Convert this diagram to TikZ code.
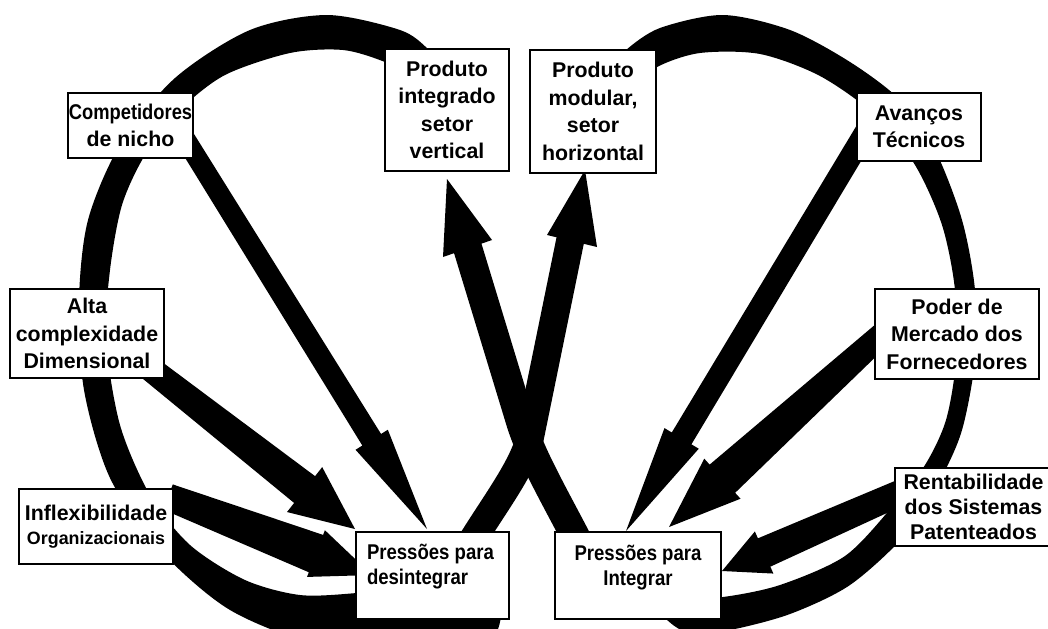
\documentclass[tikz,border=0pt]{standalone}
\usepackage{fontspec}
\usepackage{graphicx}
\setmainfont{Liberation Sans}
\usetikzlibrary{calc}

\newcommand\boxfont{\fontsize{16}{20.6}\selectfont\bfseries}
\newcommand\narrowtxt[1]{\scalebox{0.87}[1]{#1}}

% tapered block arrow: #1 tail, #2 tip, #3 tail half-width,
% #4 neck half-width, #5 head half-width, #6 head length
\newcommand\blockarrow[6]{%
  \coordinate (ba-n) at ($(#2)!#6!(#1)$);
  \fill[band] ($(#1)!#3!90:(#2)$) -- ($(ba-n)!#4!90:(#2)$) -- ($(ba-n)!#5!90:(#2)$) -- (#2)
    -- ($(ba-n)!#5!-90:(#2)$) -- ($(ba-n)!#4!-90:(#2)$) -- ($(#1)!#3!-90:(#2)$) -- cycle;}

\begin{document}
\begin{tikzpicture}[x=0.75pt, y=-0.75pt,
  band/.style={fill=black},
  box/.style={draw=black, line width=1.2pt, fill=white, inner sep=0pt, align=center, font=\boxfont},
  strand/.style={draw=black, line width=#1, line cap=butt, line join=round}]
\useasboundingbox (0,0) rectangle (1048,628);
\clip (0,0) rectangle (1048,628);

% left loop: integrated product -> pressures to disintegrate
\fill[band] plot[smooth, tension=0.5] coordinates {(445,70) (428,49) (400,30) (327,15) (250,30) (175,78) (120,145) (88,220) (79,300) (84,390) (110,478) (160,550) (230,610) (320,645) (420,652) (490,640) (503,600) (502,565)}
  -- plot[smooth, tension=0.5] coordinates {(465,548) (430,585) (357,593) (300,595) (245,580) (190,545) (150,495) (120,425) (106,340) (110,270) (122,205) (145,155) (180,110) (225,75) (290,53) (343,50) (385,62) (420,80)} -- cycle;

% right loop: modular product -> pressures to integrate
\fill[band] plot[smooth, tension=0.5] coordinates {(610,70) (626,50) (660,28) (723,15) (790,30) (850,62) (900,100) (935,150) (962,220) (975,290) (975,360) (962,430) (940,480) (905,535) (850,585) (790,614) (730,630) (690,633) (665,618) (630,575)}
  -- plot[smooth, tension=0.5] coordinates {(640,570) (680,598) (723,597) (780,585) (845,556) (892,507) (925,465) (946,420) (956,360) (955,290) (942,225) (915,165) (875,115) (820,76) (760,54) (700,53) (657,67) (630,90)} -- cycle;

% crossing strands with their heads
\draw[strand=21.75pt] (590,565) .. controls (560,505) and (532,460) .. (520,420) -- (465.5,241);
\fill[band] (443,257) -- (447,179) -- (492,240) -- cycle;
\draw[strand=21pt] (458,565) .. controls (482,520) and (523,471) .. (530,437) -- (571.5,234);
\fill[band] (547,235) -- (585,170) -- (597,247) -- cycle;

% block arrows into the two pressure boxes
\coordinate (a1s) at (176,124);  \coordinate (a1t) at (427,529);
\coordinate (a2s) at (134,356);  \coordinate (a2t) at (355,529);
\coordinate (a3s) at (168,497);  \coordinate (a3t) at (372,575);
\coordinate (a4s) at (880,108);  \coordinate (a4t) at (626,531);
\coordinate (a5s) at (900,318);  \coordinate (a5t) at (669,527);
\coordinate (a6s) at (920,484);  \coordinate (a6t) at (722,571);
\blockarrow{a1s}{a1t}{7.5pt}{8.25pt}{14.25pt}{78.75pt}
\blockarrow{a2s}{a2t}{9pt}{12.75pt}{21.4pt}{48pt}
\blockarrow{a3s}{a3t}{10.1pt}{15pt}{18.75pt}{45pt}
\blockarrow{a4s}{a4t}{8.25pt}{8.6pt}{15pt}{81pt}
\blockarrow{a5s}{a5t}{8.25pt}{14.25pt}{20.25pt}{54pt}
\blockarrow{a6s}{a6t}{9.4pt}{11.6pt}{17.25pt}{34.5pt}

% boxes
\node[box, minimum width=93.75pt, minimum height=48.75pt] (comp) at (130.5,125.5)
  {\scalebox{0.86}[1]{Competidores}\\de nicho};
\node[box, minimum width=93pt, minimum height=91.5pt] (integ) at (447,110)
  {Produto\\integrado\\setor\\vertical};
\node[box, minimum width=115.5pt, minimum height=66.75pt] (alta) at (87,333.5)
  {Alta\\complexidade\\Dimensional};
\node[box, minimum width=115.5pt, minimum height=56.25pt, font=\fontsize{16}{18}\selectfont\bfseries] (infl) at (96,526.5)
  {Inflexibilidade\\{\fontsize{13.4}{15}\selectfont Organizacionais}};
\node[box, minimum width=114.75pt, minimum height=65.25pt] (desint) at (432.5,575.5)
  {\parbox[c][65.25pt][t]{114.75pt}{\fontsize{16}{18.75}\selectfont\bfseries\raggedright\leftskip=8.25pt
   \rule{0pt}{20.25pt}\narrowtxt{Pressões para}\\\narrowtxt{desintegrar}}};
\node[box, minimum width=94.5pt, minimum height=92.25pt] (modul) at (593,111.5)
  {Produto\\modular,\\setor\\horizontal};
\node[box, minimum width=93pt, minimum height=51pt] (avanc) at (919,127)
  {Avanços\\Técnicos};
\node[box, minimum width=123pt, minimum height=67.5pt] (poder) at (957,334)
  {Poder de\\Mercado dos\\Fornecedores};
\node[box, minimum width=117.75pt, minimum height=58.5pt, font=\fontsize{16}{19}\selectfont\bfseries] (rent) at (973.5,507)
  {Rentabilidade\\dos Sistemas\\Patenteados};
\node[box, minimum width=124.5pt, minimum height=65.25pt] (integr) at (638,575.5)
  {\parbox[c][65.25pt][t]{124.5pt}{\fontsize{16}{18.75}\selectfont\bfseries\centering
   \rule{0pt}{21pt}\narrowtxt{Pressões para}\\\narrowtxt{Integrar}}};
\end{tikzpicture}
\end{document}
